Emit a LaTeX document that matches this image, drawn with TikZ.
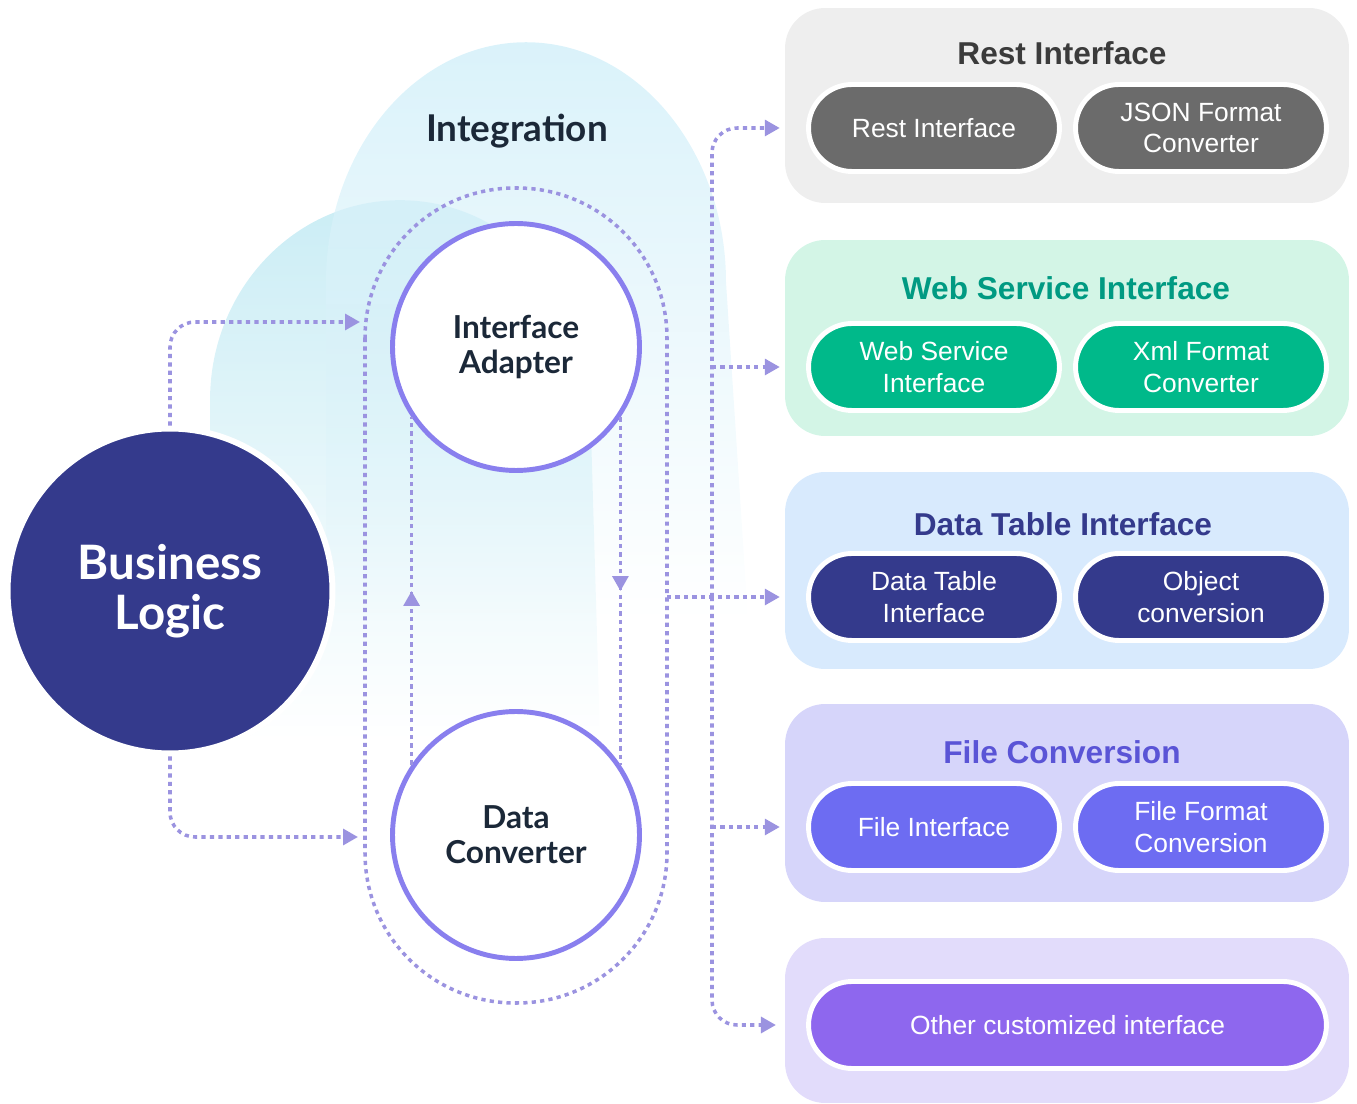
\documentclass[tikz,border=0pt]{standalone}
\usepackage{fontspec}
\setmainfont{Liberation Sans}
\newfontfamily\headfont{Lato}
\usepackage{tikz}
\usetikzlibrary{positioning}
\usetikzlibrary{calc}
\usetikzlibrary{arrows.meta}
\usetikzlibrary{decorations.markings}
\usetikzlibrary{shapes.misc}
\usetikzlibrary{fadings}
\definecolor{dotc}{RGB}{155,147,224}
\definecolor{ringc}{RGB}{137,127,238}
\definecolor{bizc}{RGB}{52,58,140}
\definecolor{txtdark}{RGB}{27,40,56}
\definecolor{blobc}{RGB}{203,237,245}
\definecolor{blobd}{RGB}{218,242,250}
\definecolor{restbg}{RGB}{238,238,238}
\definecolor{restpl}{RGB}{107,107,107}
\definecolor{resttl}{RGB}{59,59,59}
\definecolor{wsbg}{RGB}{211,245,230}
\definecolor{wspl}{RGB}{0,185,138}
\definecolor{wstl}{RGB}{0,154,130}
\definecolor{dtbg}{RGB}{216,234,253}
\definecolor{dtpl}{RGB}{52,58,140}
\definecolor{fcbg}{RGB}{214,213,250}
\definecolor{fcpl}{RGB}{109,108,242}
\definecolor{fctl}{RGB}{90,84,214}
\definecolor{otbg}{RGB}{226,220,251}
\definecolor{otpl}{RGB}{142,103,238}
\tikzfading[name=blobfade, top color=transparent!0, bottom color=transparent!100]
\tikzset{
bigc/.style={
  circle,
  inner sep=0pt,
  minimum size=6.5cm,
  align=center,
  draw=white,
  line width=3.4pt,
  fill=bizc,
  text=white,
  font=\headfont\bfseries\fontsize{27}{28.5}\selectfont
  },
ring/.style={
  circle,
  inner sep=0pt,
  minimum size=4.94cm,
  align=center,
  draw=ringc,
  line width=2.8pt,
  fill=white,
  text=txtdark,
  font=\headfont\bfseries\fontsize{18}{20}\selectfont
  },
panel/.style={
  rectangle,
  rounded corners=0.8cm,
  inner sep=0pt,
  minimum width=11.28cm
  },
pill/.style={
  rounded rectangle,
  inner sep=0pt,
  minimum width=5.02cm,
  minimum height=1.74cm,
  align=center,
  draw=white,
  line width=2.8pt,
  text=white,
  font=\fontsize{15}{18}\selectfont
  },
ttl/.style={font=\bfseries\fontsize{18}{21}\selectfont},
dotline/.style={draw=dotc,line width=2pt,dash pattern=on 2.4pt off 2.4pt},
midarrow/.style={postaction={decorate},
  decoration={markings,mark=at position 0.5 with {\arrow{Triangle[length=8.5pt,width=9pt]}}}}
}

\begin{document}
\begin{tikzpicture}[x=0.02cm,y=-0.02cm,>={Triangle[length=8.5pt,width=9pt]}]
        \useasboundingbox (0,0) rectangle (1357,1104);
        % soft background shapes
        \fill[blobc,path fading=blobfade] (210,740) -- (210,400) arc[start angle=180,end angle=0,x radius=3.8cm,y radius=4cm] -- (600,740) -- cycle;
        \fill[blobd,path fading=blobfade] (326,620) -- (326,282) arc[start angle=180,end angle=0,x radius=4cm,y radius=4.8cm] -- (748,620) -- cycle;
        % dotted loop
        \draw[dotline,rounded corners=3cm] (365,188) rectangle (667,1003);

        \node[font=\headfont\bfseries\fontsize{21}{24}\selectfont,text=txtdark] at (517,131) (integ) {Integration};
        \node[bigc] at (170,591) (bl) {Business\\Logic};
        \node[ring] at (516,347) (ia) {Interface\\Adapter};
        \node[ring] at (516,835) (dc) {Data\\Converter};

        \node[panel,fill=restbg,minimum height=3.9cm] at (1067,105.5) (rest) {};
        \node[ttl,text=resttl] at (1062,53) (restT) {Rest Interface};
        \node[pill,fill=restpl] at (934,128) (r1) {Rest Interface};
        \node[pill,fill=restpl] at (1201,128) (r2) {JSON Format\\Converter};

        \node[panel,fill=wsbg,minimum height=3.92cm] at (1067,338) (ws) {};
        \node[ttl,text=wstl] at (1066,288) (wsT) {Web Service Interface};
        \node[pill,fill=wspl] at (934,367) (w1) {Web Service\\Interface};
        \node[pill,fill=wspl] at (1201,367) (w2) {Xml Format\\Converter};

        \node[panel,fill=dtbg,minimum height=3.94cm] at (1067,570.5) (dt) {};
        \node[ttl,text=dtpl] at (1063,524) (dtT) {Data Table Interface};
        \node[pill,fill=dtpl] at (934,597) (d1) {Data Table\\Interface};
        \node[pill,fill=dtpl] at (1201,597) (d2) {Object\\conversion};

        \node[panel,fill=fcbg,minimum height=3.96cm] at (1067,803) (fc) {};
        \node[ttl,text=fctl] at (1062,752) (fcT) {File Conversion};
        \node[pill,fill=fcpl] at (934,827) (f1) {File Interface};
        \node[pill,fill=fcpl] at (1201,827) (f2) {File Format\\Conversion};

        \node[panel,fill=otbg,minimum height=3.3cm] at (1067,1020.5) (ot) {};
        \node[pill,fill=otpl,minimum width=10.36cm] at (1067.5,1025) (o1) {Other customized interface};

        \coordinate (loopL1) at (360,322);
        \coordinate (loopL2) at (358,837);
        \coordinate (loopR) at (667,597);
        \coordinate (trunk) at (712,597);

        \draw[dotline,->,rounded corners=0.5cm] (bl.north) |- (loopL1);
        \draw[dotline,->,rounded corners=0.5cm] (bl.south) |- (loopL2);
        \draw[dotline,midarrow] (dc.146) -- (ia.214);
        \draw[dotline,midarrow] (ia.326) -- (dc.34);

        \draw[dotline,->,rounded corners=0.5cm,shorten >=2.8pt] (trunk) |- (rest.west |- r1.center);
        \draw[dotline,->,shorten >=2.8pt] (trunk |- w1.center) -- (ws.west |- w1.center);
        \draw[dotline,->,shorten >=2.8pt] (loopR) -- (dt.west |- d1.center);
        \draw[dotline,->,shorten >=2.8pt] (trunk |- f1.center) -- (fc.west |- f1.center);
        \draw[dotline,->,rounded corners=0.5cm,shorten >=5pt] (trunk) |- (ot.west |- o1.center);
    \end{tikzpicture}
\end{document}
